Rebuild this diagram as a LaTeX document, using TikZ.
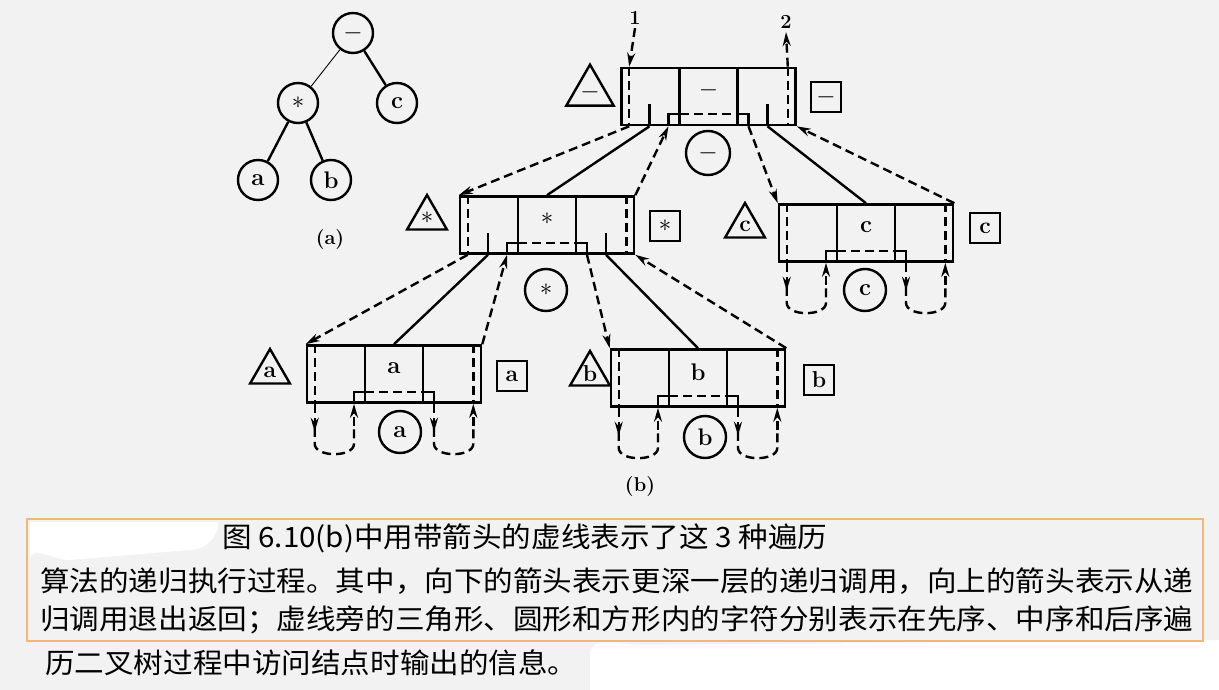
\documentclass[tikz,border=0pt]{standalone}
\usepackage{fontspec}
\newfontfamily\cjk{Noto Sans CJK SC}
\usetikzlibrary{arrows.meta,shapes.geometric,calc}
\definecolor{bg}{HTML}{F2F2F2}
\definecolor{capb}{HTML}{F0B878}
\tikzset{
 box/.style={draw,line width=2.6pt,minimum width=174pt,minimum height=57pt,inner sep=0pt},
 ln/.style={line width=2.4pt},
 dsh/.style={line width=2.4pt,dash pattern=on 9pt off 5pt},
 tip/.style={-{Stealth[length=14pt,width=8pt]}},
 tri/.style={draw,line width=2.4pt,regular polygon,regular polygon sides=3,minimum size=46pt,inner sep=0pt,font=\bfseries\fontsize{23}{23}\selectfont},
 sq/.style={draw,line width=2.4pt,minimum size=30pt,inner sep=0pt,font=\bfseries\fontsize{23}{23}\selectfont},
 cir/.style={draw,line width=2.4pt,circle,minimum size=42pt,inner sep=0pt,font=\bfseries\fontsize{24}{24}\selectfont},
 lab/.style={font=\bfseries\fontsize{24}{24}\selectfont}
}
\newcommand\recnode[4]{%
 \node[box] (#1) at (#2,#3) {};
 \draw[ln] ([xshift=-29pt]#1.north) -- ([xshift=-29pt]#1.south);
 \draw[ln] ([xshift=29pt]#1.north) -- ([xshift=29pt]#1.south);
 \node[lab] (#1-t) at ([yshift=6pt]#1.center) {#4};
 \coordinate (#1-sl) at ([xshift=-40pt]#1.south);
 \coordinate (#1-sr) at ([xshift=40pt]#1.south);
 \draw[ln] (#1-sl) -- ([yshift=12pt]#1-sl) -- ([xshift=-29pt,yshift=12pt]#1.south);
 \draw[ln] (#1-sr) -- ([yshift=12pt]#1-sr) -- ([xshift=29pt,yshift=12pt]#1.south);
 \draw[dsh] ([xshift=-29pt,yshift=12pt]#1.south) -- ([xshift=29pt,yshift=12pt]#1.south);
 \coordinate (#1-nw) at ([xshift=9pt]#1.north west);
 \coordinate (#1-sw) at ([xshift=9pt]#1.south west);
 \coordinate (#1-ne) at ([xshift=-9pt]#1.north east);
 \coordinate (#1-se) at ([xshift=-9pt]#1.south east);
 \draw[dsh] (#1-nw) -- (#1-sw);
 \draw[dsh] (#1-ne) -- (#1-se);
}
\newcommand\stubs[1]{%
 \coordinate (#1-pl) at ([xshift=-59pt]#1.south);
 \coordinate (#1-pr) at ([xshift=59pt]#1.south);
 \draw[ln] (#1-pl) -- ([yshift=22pt]#1-pl);
 \draw[ln] (#1-pr) -- ([yshift=22pt]#1-pr);
}
\newcommand\loops[1]{%
 \draw[dsh,tip] (#1-sw) -- ([yshift=-28pt]#1-sw);
 \draw[dsh] ([yshift=-24pt]#1-sw) -- ([yshift=-40pt]#1-sw) to[out=-90,in=-90,looseness=0.9] ([yshift=-40pt]#1-sl) -- ([yshift=-20pt]#1-sl);
 \draw[dsh,tip] ([yshift=-22pt]#1-sl) -- (#1-sl);
 \draw[dsh,tip] (#1-sr) -- ([yshift=-28pt]#1-sr);
 \draw[dsh] ([yshift=-24pt]#1-sr) -- ([yshift=-40pt]#1-sr) to[out=-90,in=-90,looseness=0.9] ([yshift=-40pt]#1-se) -- ([yshift=-20pt]#1-se);
 \draw[dsh,tip] ([yshift=-22pt]#1-se) -- (#1-se);
}
\begin{document}
\begin{tikzpicture}[x=1pt,y=-1pt]
\fill[bg] (0,0) rectangle (1219,690);
\useasboundingbox (0,0) rectangle (1219,690);
\fill[white] (590,690) -- (590,655) to[out=90,in=180] (640,645) -- (1219,640) -- (1219,690) -- cycle;
% tree (a)
\node[cir,minimum size=40pt] (tm) at (353,33) {$-$};
\node[cir,minimum size=40pt] (ts) at (298,103) {$*$};
\node[cir,minimum size=40pt] (tc) at (397,103) {c};
\node[cir,minimum size=40pt] (ta) at (258,180) {a};
\node[cir,minimum size=40pt] (tb) at (331,180) {b};
\draw[line width=0.9pt] (tm) -- (ts);
\draw[ln] (tm) -- (tc) (ts) -- (ta) (ts) -- (tb);
\node[lab,font=\bfseries\fontsize{20}{20}\selectfont] (la) at (330,240) {(a)};
% records
\recnode{top}{708.5}{96.5}{$-$}
\recnode{st}{547}{225}{$*$}
\recnode{cn}{866}{233}{c}
\recnode{an}{394}{374}{a}
\recnode{bn}{698}{378}{b}
\stubs{top}\stubs{st}
\loops{cn}\loops{an}\loops{bn}
% side marks
\node[tri] (t1) at (590,92) {$-$}; \node[sq] (q1) at (826,97) {$-$}; \node[cir,minimum size=44pt] (c1) at (708,153) {$-$};
\node[tri] (t2) at (427,218) {$*$}; \node[sq] (q2) at (665,226) {$*$}; \node[cir] (c2) at (546,290) {$*$};
\node[tri] (t3) at (745,226) {c}; \node[sq] (q3) at (985,228) {c}; \node[cir] (c3) at (865,290) {c};
\node[tri] (t4) at (270,372) {a}; \node[sq] (q4) at (512,376) {a}; \node[cir] (c4) at (400,432) {a};
\node[tri] (t5) at (590,374) {b}; \node[sq] (q5) at (819,380) {b}; \node[cir] (c5) at (705,437) {b};
\node[lab,font=\bfseries\fontsize{20}{20}\selectfont] (lb) at (640,487) {(b)};
% entry/exit
\node[lab,font=\bfseries\fontsize{20}{20}\selectfont] (n1) at (635,18) {1};
\node[lab,font=\bfseries\fontsize{20}{20}\selectfont] (n2) at (786,22) {2};
\draw[dsh,tip] (n1.south) -- (top-nw);
\draw[dsh,tip] (top-ne) -- (n2.south);
% solid pointers
\draw[ln] (top-pl) -- (st.north);
\draw[ln] (top-pr) -- (cn.north);
\draw[ln] (st-pl) -- (an.north);
\draw[ln] (st-pr) -- (bn.north);
% dashed traversal
\draw[dsh,tip] (top-sw) -- (st.north west);
\draw[dsh,tip] (st.north east) -- (top-sl);
\draw[dsh,tip] (top-sr) -- (cn.north west);
\draw[dsh,tip] (cn.north east) -- (top.south east);
\draw[dsh,tip] (st-sw) -- (an.north west);
\draw[dsh,tip] (an.north east) -- (st-sl);
\draw[dsh,tip] (st-sr) -- (bn.north west);
\draw[dsh,tip] (bn.north east) -- (st.south east);
% caption
\draw[capb,fill=bg,line width=1.5pt] (27,519) rectangle (1203,641);
\fill[white] (30,522) -- (218,522) to[out=-90,in=0] (190,550) -- (70,560) to[out=180,in=90] (30,560) -- cycle;
\begin{scope}[every node/.style={anchor=west,inner sep=0pt,font=\cjk\fontsize{28}{28}\selectfont}]
\node (l1) at (222,538) {\scalebox{1.056}[1]{图 6.10(b)中用带箭头的虚线表示了这 3 种遍历}};
\node (l2) at (40,581) {\scalebox{1.056}[1]{算法的递归执行过程。其中，向下的箭头表示更深一层的递归调用，向上的箭头表示从递}};
\node (l3) at (40,620) {\scalebox{1.056}[1]{归调用退出返回；虚线旁的三角形、圆形和方形内的字符分别表示在先序、中序和后序遍}};
\node (l4) at (45,663) {\scalebox{1.056}[1]{历二叉树过程中访问结点时输出的信息。}};
\end{scope}
\end{tikzpicture}
\end{document}
